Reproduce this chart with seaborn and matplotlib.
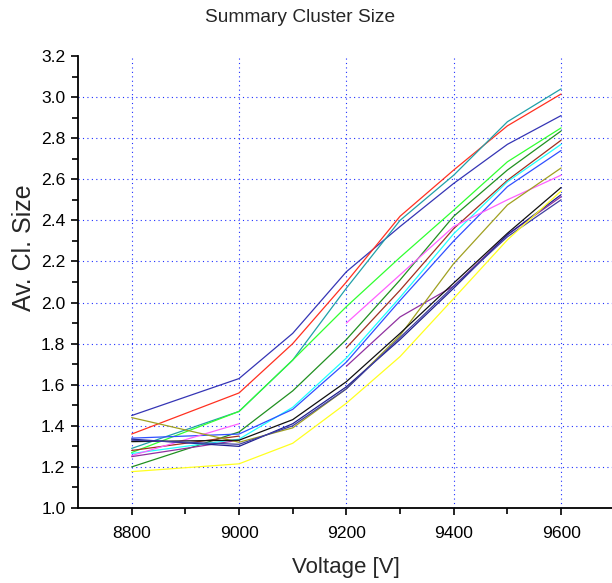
import numpy as np
import pandas as pd
import matplotlib
matplotlib.use("Agg")
import matplotlib.pyplot as plt
import seaborn as sns

voltage = [8800, 9000, 9100, 9200, 9300, 9400, 9500, 9600]
nan = np.nan

navy_a = [1.45, 1.63, 1.85, 2.15, 2.37, 2.58, 2.77, 2.91]
red = [1.36, 1.56, 1.80, 2.10, 2.42, 2.645, 2.86, 3.015]
teal = [1.29, 1.47, 1.72, 2.07, 2.40, 2.62, 2.88, 3.04]
lime = [1.27, 1.47, 1.72, 1.98, 2.22, 2.45, 2.685, 2.85]
dark_green = [1.20, 1.37, 1.57, 1.82, 2.11, 2.42, 2.645, 2.835]
wine = [1.28, 1.35, nan, 1.78, 2.06, 2.36, 2.595, 2.79]
cyan = [1.265, 1.335, 1.49, 1.73, 2.025, 2.335, 2.588, 2.77]
blue = [1.34, 1.36, 1.48, 1.71, 2.01, 2.30, 2.564, 2.74]
magenta = [1.255, 1.41, nan, 1.90, 2.135, 2.37, 2.50, 2.62]
purple = [1.25, 1.33, nan, 1.69, 1.93, 2.08, 2.33, 2.515]
olive = [1.44, 1.32, 1.39, 1.58, 1.84, 2.19, 2.475, 2.655]
black = [1.323, 1.33, 1.43, 1.615, 1.85, 2.095, 2.337, 2.56]
navy_b = [1.335, 1.30, 1.41, 1.59, 1.82, 2.07, 2.33, 2.525]
slate = [1.33, 1.31, 1.40, 1.58, 1.83, 2.08, 2.32, 2.50]
yellow = [1.177, 1.215, 1.315, 1.51, 1.737, 2.02, 2.305, 2.543]

y_ticks = [1.0, 1.2, 1.4, 1.6, 1.8, 2.0, 2.2, 2.4, 2.6, 2.8, 3.0, 3.2]
x_ticks = [8800, 9000, 9200, 9400, 9600]

series = {
    "navy_a": (navy_a, "#3535b5"),
    "red": (red, "#ff3020"),
    "teal": (teal, "#20a0a8"),
    "lime": (lime, "#30ff30"),
    "dark_green": (dark_green, "#209020"),
    "wine": (wine, "#a03020"),
    "cyan": (cyan, "#20ffff"),
    "blue": (blue, "#3050ff"),
    "magenta": (magenta, "#ff60ff"),
    "purple": (purple, "#9030a0"),
    "olive": (olive, "#a0a020"),
    "black": (black, "#101010"),
    "navy_b": (navy_b, "#202090"),
    "slate": (slate, "#4040a0"),
    "yellow": (yellow, "#ffff20"),
}

rows = []
for name, (vals, _) in series.items():
    seg = 0
    for v, y in zip(voltage, vals):
        if np.isnan(y):
            seg += 1
            continue
        rows.append({"series": name, "unit": f"{name}_{seg}", "voltage": v, "size": y})
df = pd.DataFrame(rows)
palette = {k: c for k, (_, c) in series.items()}

sns.set_style("ticks")
plt.rcParams["font.family"] = ["Liberation Sans", "DejaVu Sans"]

fig = plt.figure(figsize=(6.12, 5.83), dpi=100)
ax = fig.add_axes([78 / 612, 75 / 583, (614.75 - 78) / 612, 452 / 583])

sns.lineplot(data=df, x="voltage", y="size", hue="series", units="unit",
             estimator=None, palette=palette, legend=False, linewidth=0.9,
             ax=ax, sort=True)

ax.set_xlim(8700, 9700)
ax.set_ylim(1.0, 3.2)
ax.set_xticks(x_ticks)
ax.set_xticks([8900, 9100, 9300, 9500], minor=True)
ax.set_yticks(y_ticks)
ax.set_yticks(np.round(np.arange(1.1, 3.2, 0.2), 1), minor=True)
ax.set_yticklabels([f"{t:.1f}" for t in y_ticks])

ax.grid(True, which="major", color="#2030ff", linestyle=(0, (1, 3)), linewidth=0.8)
ax.set_axisbelow(True)
ygl = ax.yaxis.get_gridlines()
ygl[0].set_visible(False)
ygl[-1].set_visible(False)

sns.despine(ax=ax, top=True, right=True)
for s in ["left", "bottom"]:
    ax.spines[s].set_color("black")
    ax.spines[s].set_linewidth(1.3)
ax.tick_params(which="major", direction="out", length=5, width=1.2, labelsize=12.6, colors="black")
ax.tick_params(which="minor", direction="out", length=4, width=1.2, colors="black")
ax.tick_params(axis="x", which="major", pad=8)
ax.tick_params(axis="y", which="major", pad=4)

ax.set_xlabel("Voltage [V]", fontsize=16, labelpad=11.5)
ax.set_ylabel("Av. Cl. Size", fontsize=18)
ax.yaxis.set_label_coords(-0.078, 0.575)
fig.text(300 / 612, 1 - 18 / 583, "Summary Cluster Size", ha="center", va="center", fontsize=13.8)

fig.savefig("out.png", dpi=100)
